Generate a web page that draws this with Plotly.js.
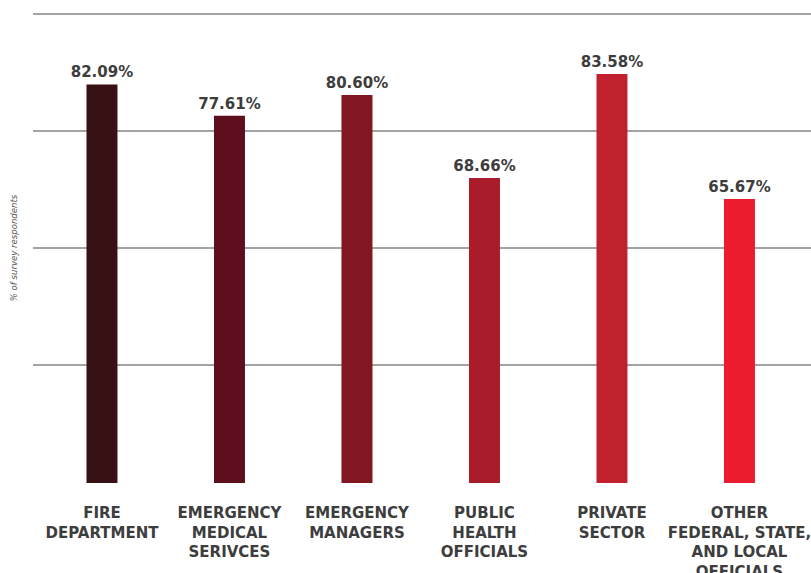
<!DOCTYPE html>
<html>
<head>
<meta charset="utf-8">
<script src="https://cdn.plot.ly/plotly-3.0.1.min.js"></script>
<style>
  html, body { margin: 0; padding: 0; background: #ffffff; }
  #chart { width: 811px; height: 573px; }
</style>
</head>
<body>
<div id="chart"></div>
<script>
// ---- data ----
var categories = [
  "FIRE<br>DEPARTMENT",
  "EMERGENCY<br>MEDICAL<br>SERIVCES",
  "EMERGENCY<br>MANAGERS",
  "PUBLIC<br>HEALTH<br>OFFICIALS",
  "PRIVATE<br>SECTOR",
  "OTHER<br>FEDERAL, STATE,<br>AND LOCAL<br>OFFICIALS"
];
var percentValues = [82.09, 77.61, 80.60, 68.66, 83.58, 65.67];
var yAxisTitle = "% of survey respondents";

// ---- styles ----
var barColors = ["#371114", "#5d0f1e", "#801721", "#a91d2b", "#c1212f", "#ea1c2d"];
var textColor = "#3d3d3d";
var gridColor = "#a3a3a3";

var trace = {
  type: "bar",
  x: categories,
  y: percentValues,
  marker: { color: barColors, line: { width: 0 } },
  width: 0.243,
  texttemplate: "%{y:.2f}%",
  textposition: "outside",
  constraintext: "none",
  cliponaxis: false,
  textfont: { family: "DejaVu Sans, sans-serif", size: 15, color: textColor, weight: "bold" },
  hoverinfo: "none"
};

var layout = {
  width: 811,
  height: 573,
  margin: { l: 33, r: 0, t: 13, b: 90, pad: 0 },
  paper_bgcolor: "#ffffff",
  plot_bgcolor: "#ffffff",
  showlegend: false,
  font: { family: "DejaVu Sans, sans-serif", color: textColor },
  xaxis: {
    type: "category",
    range: [-0.541, 5.561],
    showgrid: false,
    showline: false,
    zeroline: false,
    ticks: "",
    ticklabelstandoff: 19,
    tickfont: { family: "DejaVu Sans, sans-serif", size: 15, color: textColor, weight: "bold" },
    fixedrange: true
  },
  yaxis: {
    range: [24.9, 92.35],
    tickmode: "linear",
    tick0: 25,
    dtick: 16.8,
    showticklabels: false,
    ticks: "",
    showgrid: true,
    gridcolor: gridColor,
    gridwidth: 1.5,
    zeroline: false,
    showline: false,
    automargin: false,
    title: {
      text: yAxisTitle,
      standoff: 12,
      font: { family: "DejaVu Sans Condensed, Liberation Sans Narrow, sans-serif", size: 9.5, color: "#555555", style: "italic" }
    },
    fixedrange: true
  }
};

Plotly.newPlot("chart", [trace], layout, { staticPlot: true, displayModeBar: false });
</script>
</body>
</html>
